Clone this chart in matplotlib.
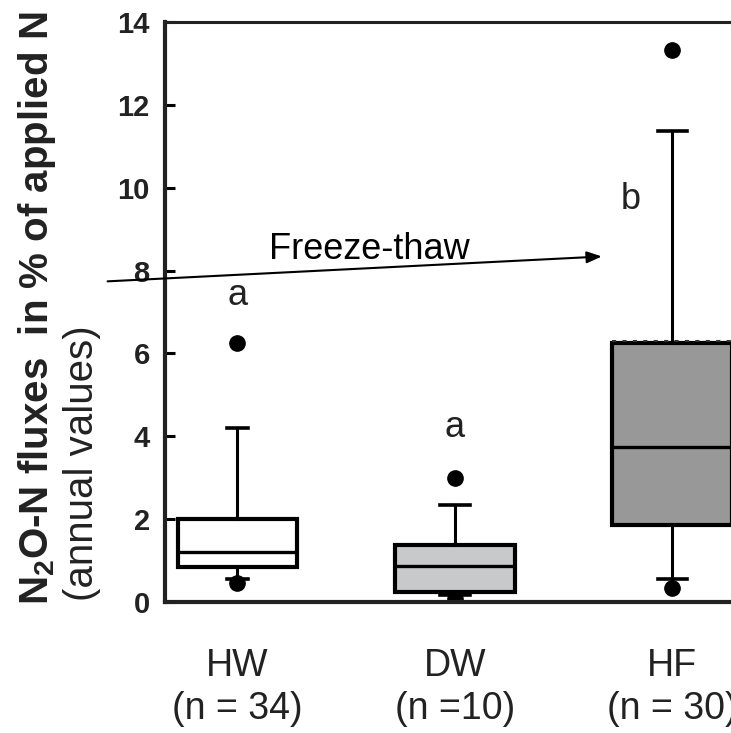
import matplotlib
matplotlib.use("Agg")
import matplotlib.pyplot as plt

plt.rcParams['font.family'] = ['Liberation Sans', 'DejaVu Sans']
plt.rcParams['mathtext.fontset'] = 'custom'
plt.rcParams['mathtext.rm'] = 'Liberation Sans'
plt.rcParams['mathtext.bf'] = 'Liberation Sans:bold'

# ---- data ----
groups = ["HW", "DW", "HF"]
n_labels = ["(n = 34)", "(n =10)", "(n = 30)"]
q1 = [0.85, 0.24, 1.86]
q3 = [2.00, 1.38, 6.26]
medians = [1.21, 0.87, 3.75]
whisker_low = [0.55, 0.17, 0.56]
whisker_high = [4.20, 2.35, 11.36]
outliers = [[0.45, 6.24], [0.08, 3.00], [0.34, 13.32]]
hf_mean = 6.30
letters = ["a", "a", "b"]
letter_y = [7.18, 3.99, 9.48]
letter_x = [1.0, 2.0, 2.81]
box_colors = ["#ffffff", "#c8c9cb", "#989898"]
cap_widths = [0.095, 0.135, 0.135]

fig = plt.figure(figsize=(7.31, 7.33), dpi=100)
ax = fig.add_axes([165 / 731, 131 / 733, 1 - 165 / 731, (602 - 22) / 733])

positions = [1, 2, 3]
stats = []
for i in range(3):
    d = dict(q1=q1[i], q3=q3[i], med=medians[i], whislo=whisker_low[i],
             whishi=whisker_high[i], fliers=outliers[i], label=groups[i])
    d['mean'] = hf_mean if i == 2 else medians[i]
    stats.append(d)

for i in range(3):
    ax.bxp([stats[i]], positions=[positions[i]], widths=0.55, patch_artist=True,
           showmeans=(i == 2), meanline=True, capwidths=[cap_widths[i]],
           boxprops=dict(facecolor=box_colors[i], edgecolor='black', linewidth=3.0),
           medianprops=dict(color='black', linewidth=2.4),
           whiskerprops=dict(color='black', linewidth=2.2),
           capprops=dict(color='black', linewidth=2.6),
           meanprops=dict(color='#333333', linewidth=1.5, linestyle=(0, (2, 3))),
           flierprops=dict(marker='o', markerfacecolor='black', markeredgecolor='black',
                           markersize=11))

ax.set_xlim(0.667, 3.27)
ax.set_ylim(0, 14)
ax.set_yticks(range(0, 15, 2))
ax.set_xticks(positions)
ax.set_xticklabels([f"{g}\n{n}" for g, n in zip(groups, n_labels)],
                   fontsize=27, linespacing=1.25)
ax.tick_params(axis='x', length=0, pad=33, colors='#222222')
ax.tick_params(axis='y', direction='in', length=7, width=2.2, pad=11,
               labelsize=21)
for lab in ax.get_yticklabels():
    lab.set_fontweight('bold')
    lab.set_color('#222222')

ax.spines['right'].set_visible(False)
for s in ['left', 'bottom']:
    ax.spines[s].set_linewidth(3.0)
    ax.spines[s].set_color('#222222')
ax.spines['top'].set_linewidth(2.2)
ax.spines['top'].set_color('#222222')

for x, y, t in zip(letter_x, letter_y, letters):
    ax.text(x, y, t, ha='center', va='baseline', fontsize=26, color='#222222')

ax.annotate("", xy=(2.676, 8.34), xytext=(0.403, 7.74), annotation_clip=False,
            arrowprops=dict(arrowstyle='-|>,head_length=0.9,head_width=0.35',
                            color='black', lw=1.5, shrinkA=0, shrinkB=0))
ax.text(1.606, 8.29, "Freeze-thaw", ha='center', va='baseline', fontsize=26,
        color='black')

fig.text(37 / 731, (733 - 605) / 733,
         r"N$_\mathbf{2}$O-N fluxes  in % of applied N", rotation=90,
         ha='center', va='bottom', fontsize=29, fontweight='bold', color='#222222')
fig.text(82 / 731, (733 - 601) / 733, "(annual values)", rotation=90,
         ha='center', va='bottom', fontsize=29, color='#222222')

fig.savefig("out.png", dpi=100)
